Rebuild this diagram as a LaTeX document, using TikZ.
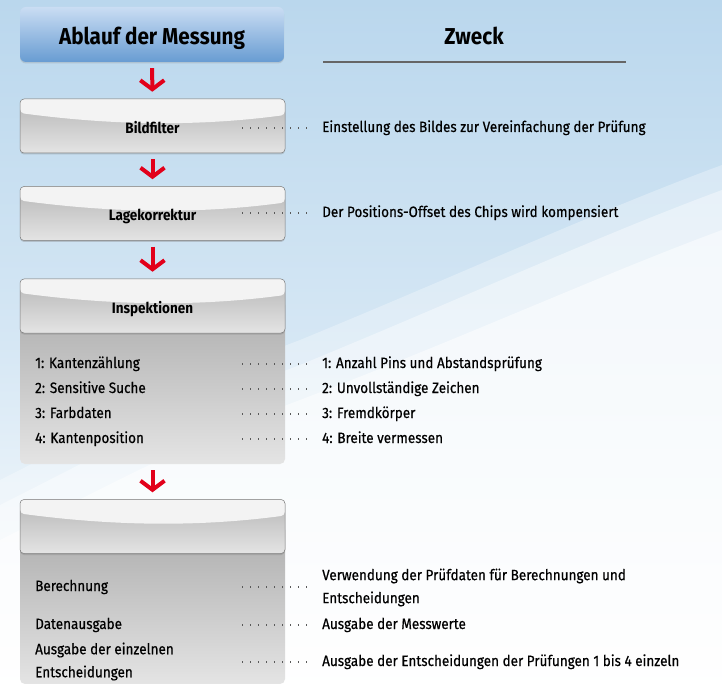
\documentclass[tikz,border=0pt]{standalone}
\usepackage{fontspec}
\setmainfont{Fira Sans}[FakeStretch=0.90, UprightFeatures={FakeBold=0.5}]
\usetikzlibrary{arrows.meta,positioning,shadows}

\definecolor{pfeilrot}{RGB}{226,0,26}
\definecolor{himmel}{RGB}{186,215,237}
\definecolor{blauhell}{RGB}{202,221,243}
\definecolor{blaudunkel}{RGB}{104,156,210}
\definecolor{glanz}{RGB}{243,243,243}
\definecolor{grauoben}{RGB}{182,182,182}
\definecolor{grauunten}{RGB}{228,228,228}
\definecolor{rahmen}{RGB}{125,125,125}

\tikzset{
	kopf/.style={
		minimum width = 264pt,
		minimum height = 55pt,
		rounded corners = 6pt,
		top color = blauhell,
		bottom color = blaudunkel,
		drop shadow = {opacity=0.25, shadow xshift=0pt, shadow yshift=-1.5pt},
		text height = 20pt,
		text depth = 0pt,
		font = \fontsize{23}{25}\selectfont\bfseries
	},
	schrittbox/.style={
		minimum width = 265pt,
		minimum height = 54pt,
		rounded corners = 4pt,
		draw = rahmen,
		line width = 0.5pt,
		top color = grauoben,
		bottom color = grauunten,
		drop shadow = {opacity=0.35, shadow xshift=0pt, shadow yshift=-1.5pt},
		text height = 15pt,
		text depth = 0pt,
		font = \fontsize{15}{17}\selectfont\bfseries,
		path picture = {
			\fill[glanz] (path picture bounding box.north west)
				-- (path picture bounding box.north east)
				-- ([yshift=-16pt]path picture bounding box.north east)
				.. controls +(-90pt,-12pt) and +(90pt,-12pt) ..
				([yshift=-14pt]path picture bounding box.north west) -- cycle;
		}
	},
	koerper/.style={
		minimum width = 265pt,
		rounded corners = 5pt,
		top color = grauoben!95!black,
		bottom color = grauunten
	},
	punkt/.style={
		anchor = west,
		inner sep = 0pt,
		text height = 11pt,
		text depth = 3pt
	},
	zweck/.style={
		anchor = west,
		inner sep = 0pt,
		align = left
	},
	leiter/.style={
		draw = black!65,
		line width = 1.3pt,
		dash pattern = on 1.3pt off 6.7pt
	},
	pfeil/.style={
		draw = pfeilrot,
		line width = 4pt,
		-{Straight Barb[length=9pt, width=24pt]},
		shorten <= 6pt,
		shorten >= 7pt
	},
}

\begin{document}
\begin{tikzpicture}[x=1pt, y=-1pt, font=\fontsize{15}{23}\selectfont]
    \useasboundingbox (0,0) rectangle (722,684);
    % hintergrund mit heller welle rechts
    \shade[top color=himmel, bottom color=white, middle color=himmel!60!white] (0,0) rectangle (722,684);
    \fill[white, opacity=0.3] (722,165) .. controls (600,210) and (470,270) .. (300,340)
      .. controls (180,385) and (80,440) .. (0,480) -- (0,684) -- (722,684) -- cycle;
    \fill[white, opacity=0.4] (722,190) .. controls (600,235) and (470,295) .. (300,365)
      .. controls (180,410) and (80,465) .. (0,505) -- (0,684) -- (722,684) -- cycle;
    \fill[white, opacity=0.5] (722,230) .. controls (600,275) and (470,335) .. (300,400)
      .. controls (180,445) and (80,500) .. (0,540) -- (0,684) -- (722,684) -- cycle;

    % spaltenkoepfe
    \node[kopf] (ablauf) at (152,34.5) {Ablauf der Messung};
    \node[font=\fontsize{23}{25}\selectfont\bfseries, text height=16pt, text depth=0pt] (zweckkopf) at (474,37) {Zweck};
    \draw[black!60, line width=1.2pt] (323,62) -- (626,62);

    % ablauf
    \node[schrittbox] (bf) at (152.5,126) {Bildfilter};
    \node[schrittbox] (lk) at (152.5,213.5) {Lagekorrektur};
    \node[koerper, minimum height=164pt] (inspk) at (152.5,382) {};
    \node[schrittbox] (insp) at (152.5,306) {Inspektionen};
    \node[koerper, minimum height=159pt] (ausk) at (152.5,604.5) {};
    \node[schrittbox] (aus) at (152.5,526.5) {};

    \draw[pfeil] (ablauf) -- (bf);
    \draw[pfeil] (bf) -- (lk);
    \draw[pfeil] (lk) -- (insp);
    \draw[pfeil] (inspk) -- (aus);

    % einzelne pruefungen
    \node[punkt] (i1) at (35,364) {1: Kantenzählung};
    \node[punkt] (i2) at (35,389) {2: Sensitive Suche};
    \node[punkt] (i3) at (35,414) {3: Farbdaten};
    \node[punkt] (i4) at (35,439) {4: Kantenposition};
    \node[punkt] (a1) at (35,587) {Berechnung};
    \node[punkt] (a2) at (35,625) {Datenausgabe};
    \node[zweck] (a3) at (35,661.5) {Ausgabe der einzelnen\\Entscheidungen};

    % zweck
    \node[punkt] (z1) at (322,128) {Einstellung des Bildes zur Vereinfachung der Prüfung};
    \node[punkt] (z2) at (322,213) {Der Positions-Offset des Chips wird kompensiert};
    \node[punkt] (z3) at (322,364) {1: Anzahl Pins und Abstandsprüfung};
    \node[punkt] (z4) at (322,389) {2: Unvollständige Zeichen};
    \node[punkt] (z5) at (322,414) {3: Fremdkörper};
    \node[punkt] (z6) at (322,439) {4: Breite vermessen};
    \node[zweck] (z7) at (322,587.5) {Verwendung der Prüfdaten für Berechnungen und\\Entscheidungen};
    \node[punkt] (z8) at (322,625) {Ausgabe der Messwerte};
    \node[punkt] (z9) at (322,662) {Ausgabe der Entscheidungen der Prüfungen 1 bis 4 einzeln};

    % punktlinien
    \coordinate (lx) at (242,0);
    \foreach \z in {z1,z2,z3,z4,z5,z6,z8,z9}{
      \draw[leiter] (\z.west -| lx) -- (\z.west) [shorten >=13pt];
    }
    \draw[leiter, shorten >=13pt] (a1.west -| lx) -- (a1.west -| z7.west);
  \end{tikzpicture}
\end{document}
